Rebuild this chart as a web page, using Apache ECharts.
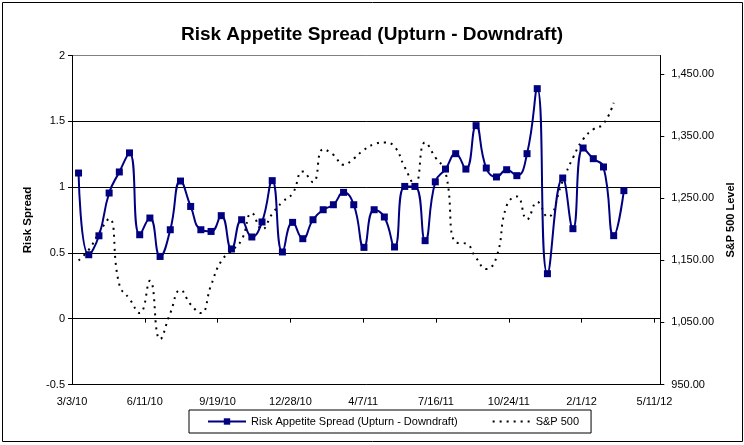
<!DOCTYPE html>
<html><head><meta charset="utf-8">
<script src="https://cdn.jsdelivr.net/npm/echarts@6/dist/echarts.min.js"></script>
<style>html,body{margin:0;padding:0;background:#fff}#c{width:744px;height:445px}</style>
</head><body><div id="c"></div>
<script>
// ---- data ----
const dates = [
 '2010-03-12','2010-03-26','2010-04-09','2010-04-23','2010-05-07','2010-05-21','2010-06-04','2010-06-18','2010-07-02','2010-07-16',
 '2010-07-30','2010-08-13','2010-08-27','2010-09-10','2010-09-24','2010-10-08','2010-10-22','2010-11-05','2010-11-19','2010-12-03',
 '2010-12-17','2010-12-31','2011-01-14','2011-01-28','2011-02-11','2011-02-25','2011-03-11','2011-03-25','2011-04-08','2011-04-22',
 '2011-05-06','2011-05-20','2011-06-03','2011-06-17','2011-07-01','2011-07-15','2011-07-29','2011-08-12','2011-08-26','2011-09-09',
 '2011-09-23','2011-10-07','2011-10-21','2011-11-04','2011-11-18','2011-12-02','2011-12-16','2012-01-06','2012-01-20','2012-02-03',
 '2012-02-17','2012-03-02','2012-03-16','2012-03-30'
];
const spread = [
 1.107,0.486,0.63,0.955,1.115,1.26,0.638,0.765,0.473,0.676,
 1.046,0.853,0.676,0.663,0.783,0.53,0.752,0.621,0.735,1.049,
 0.507,0.732,0.608,0.752,0.828,0.866,0.96,0.866,0.542,0.828,
 0.773,0.545,1.005,1.005,0.593,1.04,1.137,1.254,1.137,1.467,
 1.145,1.077,1.132,1.087,1.254,1.748,0.342,1.069,0.684,1.297,
 1.216,1.153,0.631,0.973
];
const sp500 = [
 1150,1167,1194,1217,1111,1088,1065,1117,1023,1065,
 1102,1079,1065,1110,1149,1165,1183,1226,1200,1225,
 1244,1258,1293,1276,1329,1320,1304,1314,1328,1337,
 1340,1333,1300,1272,1340,1316,1292,1179,1177,1154,
 1136,1155,1238,1253,1216,1244,1220,1278,1315,1345,
 1361,1370,1404
];
const xStart = '2010-03-03';   // first x tick (3/3/10)
const xEnd = '2012-05-19';     // end of date axis
const xStepDays = 100;         // 3/3/10, 6/11/10, 9/19/10 ...
const leftTicks = [-0.5, 0, 0.5, 1, 1.5, 2];
const rightTicks = [950, 1050, 1150, 1250, 1350, 1450];
const rightMax = 1480;
const titleText = 'Risk Appetite Spread (Upturn - Downdraft)';
const seriesNames = ['Risk Appetite Spread (Upturn - Downdraft)', 'S&P 500'];

// ---- helpers ----
const DAY = 86400000;
const t0 = Date.parse(xStart);
const dayOf = d => Math.round((Date.parse(d) - t0) / DAY);
const fmtDate = v => { const d = new Date(t0 + v * DAY); return (d.getUTCMonth()+1) + '/' + d.getUTCDate() + '/' + String(d.getUTCFullYear()).slice(2); };
const fmtNum = v => v.toFixed(2).replace(/\B(?=(\d{3})+(?!\d))/g, ',');

const spreadData = spread.map((v, i) => [dayOf(dates[i]), v]);
const spData = sp500.map((v, i) => [dayOf(dates[i]), v]);

const FONT = 'Arial, "Liberation Sans", sans-serif';
const chart = echarts.init(document.getElementById('c'), null, {renderer: 'canvas'});
chart.setOption({
  animation: false,
  backgroundColor: '#fff',
  textStyle: {fontFamily: FONT, color: '#000'},
  title: {text: titleText, left: 'center', top: 20, textStyle: {fontFamily: FONT, fontSize: 19, fontWeight: 'bold', color: '#000'}},
  grid: {left: 72, right: 77, top: 55.5, bottom: 60.5, containLabel: false},
  legend: {
    left: 189, top: 410, orient: 'horizontal',
    padding: [6, 12, 6, 18], itemGap: 34, itemWidth: 38, itemHeight: 8,
    borderColor: '#000', borderWidth: 1,
    textStyle: {fontFamily: FONT, fontSize: 11, color: '#000'},
    data: [
      {name: seriesNames[0]},
      {name: seriesNames[1], itemStyle: {color: 'rgba(0,0,0,0)', opacity: 0, borderWidth: 0}}
    ]
  },
  xAxis: {
    type: 'value', min: 0, max: dayOf(xEnd), interval: xStepDays,
    axisLine: {show: true, lineStyle: {color: '#000', width: 1}},
    axisTick: {show: true, length: 4, lineStyle: {color: '#000'}},
    axisLabel: {formatter: fmtDate, fontSize: 11, color: '#000', fontFamily: FONT, margin: 12, showMaxLabel: false},
    splitLine: {show: false}
  },
  yAxis: [{
    type: 'value', min: leftTicks[0], max: leftTicks[leftTicks.length-1], interval: 0.5,
    name: 'Risk Spread', nameLocation: 'middle', nameGap: 38,
    nameTextStyle: {fontFamily: FONT, fontSize: 11.5, fontWeight: 'bold', color: '#000'},
    axisLine: {show: true, lineStyle: {color: '#000'}},
    axisTick: {show: true, length: 4, lineStyle: {color: '#000'}},
    axisLabel: {fontSize: 11, color: '#000', fontFamily: FONT, margin: 7},
    splitLine: {show: true, lineStyle: {color: ['#000','#000','#000','#000','#000','#808080'], width: 1}}
  }, {
    type: 'value', min: rightTicks[0], max: rightMax, interval: 100,
    name: 'S&P 500 Level', nameLocation: 'middle', nameGap: 55,
    nameTextStyle: {fontFamily: FONT, fontSize: 11, fontWeight: 'bold', color: '#000'},
    position: 'right',
    axisLine: {show: true, lineStyle: {color: '#000'}},
    axisTick: {show: true, length: 4, lineStyle: {color: '#000'}, customValues: rightTicks},
    axisLabel: {fontSize: 11, color: '#000', fontFamily: FONT, margin: 11, customValues: rightTicks,
      formatter: v => (rightTicks.indexOf(v) >= 0 ? fmtNum(v) : '')},
    splitLine: {show: false}
  }],
  graphic: [{
    type: 'rect', shape: {x: 2.5, y: 2.5, width: 740, height: 439}, z: -1,
    style: {fill: 'none', stroke: '#000', lineWidth: 1}
  }],
  series: [{
    name: seriesNames[0], type: 'line', yAxisIndex: 0, data: spreadData,
    smooth: 0.5, symbol: 'rect', symbolSize: 7, showSymbol: true,
    itemStyle: {color: '#000080'}, lineStyle: {color: '#000080', width: 2},
    z: 3
  }, {
    name: seriesNames[1], type: 'line', yAxisIndex: 1, data: spData,
    smooth: 0.5, symbol: 'none',
    itemStyle: {color: '#000'}, lineStyle: {color: '#000', width: 2, type: [2, 5]},
    z: 2
  }]
});
</script></body></html>
